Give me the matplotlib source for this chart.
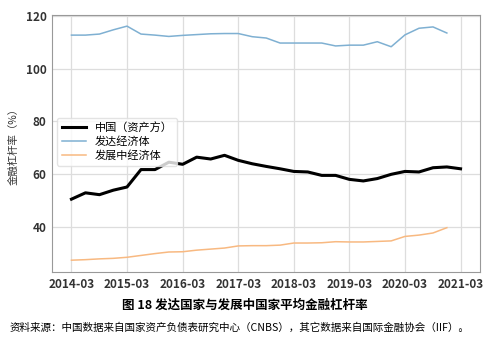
import matplotlib
matplotlib.use("Agg")
import matplotlib.pyplot as plt
import matplotlib.dates as mdates
import pandas as pd

plt.rcParams['font.family'] = ['Noto Sans CJK SC', 'DejaVu Sans']

# quarterly, 2014-03 .. 2021-03
quarters = pd.date_range('2014-03-01', '2021-03-01', freq='3MS')

china = [50.6, 53.0, 52.3, 54.0, 55.2, 61.8, 61.8, 64.6, 63.8, 66.5, 65.8, 67.2,
         65.3, 64.0, 63.0, 62.1, 61.1, 60.9, 59.6, 59.6, 58.1, 57.5, 58.4, 60.0,
         61.1, 60.9, 62.5, 62.8, 62.1]
developed = [112.7, 112.7, 113.1, 114.7, 116.1, 113.1, 112.7, 112.2, 112.6, 112.9,
             113.2, 113.3, 113.3, 112.1, 111.6, 109.7, 109.7, 109.7, 109.7, 108.6,
             108.9, 108.9, 110.2, 108.3, 112.8, 115.3, 115.8, 113.5]
developing = [27.5, 27.7, 28.0, 28.2, 28.6, 29.3, 30.0, 30.6, 30.7, 31.3, 31.7, 32.1,
              32.9, 33.0, 33.0, 33.2, 34.0, 34.0, 34.1, 34.5, 34.4, 34.4, 34.6, 34.8,
              36.5, 37.0, 37.8, 39.8]

labels = ['中国（资产方）', '发达经济体', '发展中经济体']
yticks = [40, 60, 80, 100, 120]

fig = plt.figure(figsize=(5, 3.58), dpi=100)
ax = fig.add_axes([0.104, 0.24, 0.856, 0.718])

ax.plot(quarters, china, color='black', lw=2.2, label=labels[0])
ax.plot(quarters[:len(developed)], developed, color='#7fb0d2', lw=1.1, label=labels[1])
ax.plot(quarters[:len(developing)], developing, color='#f8b981', lw=1.1, label=labels[2])

ax.set_ylim(23, 120.3)
ax.set_yticks(yticks)
ax.xaxis.set_major_locator(mdates.MonthLocator(bymonth=3))
ax.xaxis.set_major_formatter(mdates.DateFormatter('%Y-%m'))
ax.grid(True, color='#dddddd', lw=0.9)
ax.set_axisbelow(True)
for s in ax.spines.values():
    s.set_color('#999999')
ax.tick_params(length=0, labelsize=8.5, labelcolor='#333333', pad=4)
for t in ax.get_xticklabels() + ax.get_yticklabels():
    t.set_fontweight('bold')
ax.set_ylabel('金融杠杆率（%）', fontsize=7.5, color='#333333', labelpad=5)

ax.legend(loc='upper left', bbox_to_anchor=(0.012, 0.6), borderaxespad=0,
          fontsize=8, frameon=True, edgecolor='#dddddd', fancybox=True,
          handlelength=2.2, labelspacing=0.3)

fig.text(0.49, 0.148, '图 18 发达国家与发展中国家平均金融杠杆率', ha='center', va='center',
         fontsize=9, fontweight='bold', color='black')
fig.text(0.02, 0.085, '资料来源：中国数据来自国家资产负债表研究中心（CNBS），其它数据来自国际金融协会（IIF）。',
         ha='left', va='center', fontsize=7.6, color='black')

fig.savefig('out.png', dpi=100)
